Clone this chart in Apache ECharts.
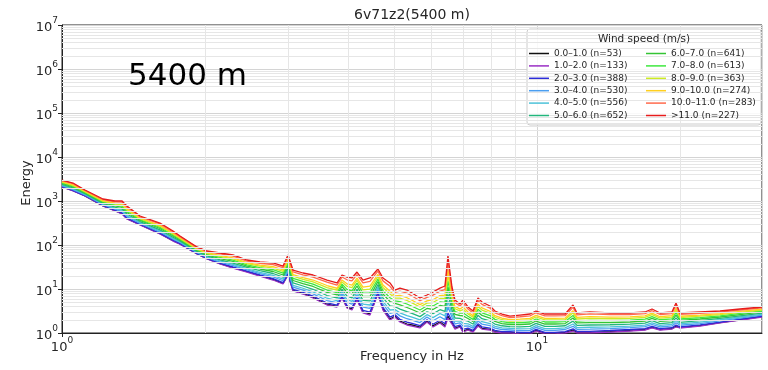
<!DOCTYPE html>
<html>
<head>
<meta charset="utf-8">
<script src="https://cdn.jsdelivr.net/npm/echarts@6/dist/echarts.min.js"></script>
<style>
html, body { margin: 0; padding: 0; background: #ffffff; }
#chart { width: 768px; height: 370px; }
</style>
</head>
<body>
<div id="chart"></div>
<script>
// Frequency grid (Hz) shared by every wind-speed bin
const freq = [
  1.000, 1.055, 1.118, 1.220, 1.293, 1.338, 1.370, 1.460, 1.608, 1.713,
  1.772, 1.924, 2.020, 2.151, 2.291, 2.452, 2.611, 2.782, 2.920, 2.991,
  3.065, 3.216, 3.377, 3.614, 3.793, 3.886, 3.981, 4.078, 4.179, 4.302,
  4.450, 4.626, 4.740, 4.904, 5.024, 5.147, 5.324, 5.456, 5.671, 5.867,
  6.040, 6.248, 6.401, 6.495, 6.623, 6.720, 6.885, 6.986, 7.157, 7.333,
  7.512, 7.660, 7.962, 8.157, 8.438, 8.773, 9.210, 9.667, 9.952, 10.39,
  10.91, 11.46, 11.91, 12.14, 12.93, 14.25, 15.70, 16.88, 17.47, 18.16,
  19.24, 19.62, 20.00, 22.04, 24.29, 26.76, 29.77
];

// Legend entries and line colours, one per wind-speed bin
const binLabels = [
  '0.0–1.0 (n=53)', '1.0–2.0 (n=133)', '2.0–3.0 (n=388)', '3.0–4.0 (n=530)',
  '4.0–5.0 (n=556)', '5.0–6.0 (n=652)', '6.0–7.0 (n=641)', '7.0–8.0 (n=613)',
  '8.0–9.0 (n=363)', '9.0–10.0 (n=274)', '10.0–11.0 (n=283)', '>11.0 (n=227)'
];
const binColors = [
  '#111111', '#9a2fc4', '#2c2cd8', '#4a9ef0', '#4cc2d8', '#22b67c',
  '#34c434', '#3ee83e', '#ccea24', '#ffcf1f', '#ff6a4c', '#e61c1c'
];

// Mean spectral energy per bin
const e00_01 = [
  2100, 1710, 1310, 776, 602, 517, 398, 289, 181, 125,
  106, 63.1, 48.7, 37.6, 30.6, 24.8, 20.2, 16.5, 13.4, 21.5,
  9.32, 7.94, 6.47, 4.50, 4.05, 6.47, 3.88, 3.50, 5.87, 3.00,
  2.71, 8.00, 3.50, 2.08, 2.41, 1.87, 1.60, 1.52, 1.36, 1.85,
  1.45, 1.78, 1.46, 2.42, 1.69, 1.28, 1.42, 1.10, 1.21, 1.09,
  1.50, 1.28, 1.21, 1.08, 1.03, 1.03, 0.98, 0.98, 1.15, 0.98,
  0.98, 1.03, 1.16, 1.03, 1.03, 1.08, 1.14, 1.20, 1.34, 1.20,
  1.26, 1.42, 1.33, 1.47, 1.72, 2.00, 2.35
];
const e01_02 = [
  2080, 1690, 1300, 769, 593, 507, 390, 285, 178, 123,
  105, 62.4, 48.1, 37.0, 30.0, 24.3, 19.7, 16.0, 13.0, 20.8,
  9.02, 7.69, 6.24, 4.33, 3.90, 6.24, 3.70, 3.33, 5.62, 2.85,
  2.56, 7.69, 3.33, 1.97, 2.31, 1.78, 1.52, 1.44, 1.30, 1.78,
  1.37, 1.69, 1.37, 2.19, 1.60, 1.23, 1.37, 1.05, 1.17, 1.05,
  1.44, 1.23, 1.17, 1.05, 1.00, 1.00, 0.95, 0.95, 1.11, 0.95,
  0.95, 1.00, 1.11, 1.00, 1.00, 1.05, 1.11, 1.17, 1.30, 1.17,
  1.23, 1.37, 1.30, 1.44, 1.69, 1.97, 2.31
];
const e02_03 = [
  2140, 1750, 1330, 793, 618, 536, 412, 296, 186, 129,
  109, 64.3, 49.8, 38.7, 31.7, 25.6, 20.9, 17.2, 14.0, 22.6,
  9.84, 8.39, 6.87, 4.81, 4.32, 6.87, 4.21, 3.81, 6.32, 3.27,
  2.99, 8.55, 3.81, 2.30, 2.59, 2.05, 1.76, 1.66, 1.47, 1.99,
  1.58, 1.95, 1.63, 2.84, 1.87, 1.39, 1.51, 1.21, 1.29, 1.15,
  1.62, 1.38, 1.29, 1.15, 1.08, 1.07, 1.03, 1.03, 1.21, 1.03,
  1.03, 1.08, 1.24, 1.09, 1.09, 1.14, 1.20, 1.26, 1.41, 1.26,
  1.32, 1.51, 1.38, 1.53, 1.77, 2.07, 2.41
];
const e03_04 = [
  2220, 1820, 1370, 822, 652, 573, 441, 310, 197, 136,
  114, 66.7, 51.9, 41.0, 33.9, 27.2, 22.5, 18.8, 15.4, 25.1,
  11.0, 9.38, 7.74, 5.47, 4.89, 7.74, 4.95, 4.51, 7.31, 3.89,
  3.63, 9.72, 4.51, 2.79, 2.98, 2.45, 2.11, 1.97, 1.73, 2.30,
  1.90, 2.34, 2.01, 3.94, 2.27, 1.62, 1.70, 1.43, 1.45, 1.29,
  1.87, 1.59, 1.47, 1.29, 1.20, 1.17, 1.13, 1.15, 1.34, 1.15,
  1.15, 1.20, 1.42, 1.21, 1.22, 1.26, 1.32, 1.39, 1.56, 1.37,
  1.45, 1.71, 1.50, 1.64, 1.89, 2.19, 2.54
];
const e04_05 = [
  2300, 1890, 1420, 849, 682, 610, 469, 324, 208, 142,
  118, 68.9, 53.8, 43.3, 36.1, 28.8, 24.0, 20.4, 16.7, 27.6,
  12.1, 10.4, 8.63, 6.17, 5.47, 8.63, 5.73, 5.24, 8.36, 4.55,
  4.33, 11.0, 5.24, 3.33, 3.39, 2.88, 2.49, 2.30, 1.99, 2.61,
  2.24, 2.77, 2.44, 5.26, 2.70, 1.86, 1.89, 1.66, 1.62, 1.42,
  2.14, 1.81, 1.64, 1.42, 1.31, 1.27, 1.24, 1.26, 1.47, 1.26,
  1.26, 1.31, 1.60, 1.33, 1.35, 1.38, 1.43, 1.51, 1.70, 1.49,
  1.57, 1.92, 1.61, 1.76, 2.00, 2.31, 2.66
];
const e05_06 = [
  2390, 1980, 1470, 883, 723, 656, 505, 341, 221, 150,
  124, 71.8, 56.4, 46.0, 38.8, 30.9, 26.1, 22.5, 18.6, 31.0,
  13.7, 11.7, 9.86, 7.11, 6.28, 9.86, 6.85, 6.30, 9.82, 5.50,
  5.36, 12.6, 6.30, 4.12, 3.95, 3.50, 3.05, 2.78, 2.36, 3.04,
  2.74, 3.38, 3.09, 7.52, 3.34, 2.19, 2.16, 1.99, 1.85, 1.60,
  2.52, 2.11, 1.88, 1.60, 1.46, 1.40, 1.38, 1.41, 1.65, 1.41,
  1.41, 1.46, 1.86, 1.49, 1.52, 1.54, 1.59, 1.67, 1.90, 1.64,
  1.73, 2.20, 1.75, 1.91, 2.14, 2.45, 2.82
];
const e06_07 = [
  2500, 2080, 1520, 925, 771, 713, 548, 361, 237, 160,
  130, 75.0, 59.3, 49.3, 42.2, 33.3, 28.5, 25.0, 20.8, 35.2,
  15.6, 13.3, 11.4, 8.34, 7.31, 11.4, 8.34, 7.71, 11.7, 6.76,
  6.76, 14.8, 7.71, 5.20, 4.69, 4.34, 3.80, 3.42, 2.85, 3.61,
  3.42, 4.22, 4.00, 11.1, 4.22, 2.64, 2.50, 2.44, 2.14, 1.83,
  3.00, 2.50, 2.19, 1.83, 1.64, 1.56, 1.56, 1.60, 1.87, 1.60,
  1.60, 1.64, 2.19, 1.69, 1.73, 1.73, 1.78, 1.87, 2.14, 1.83,
  1.92, 2.56, 1.93, 2.08, 2.31, 2.63, 3.01
];
const e07_08 = [
  2590, 2170, 1570, 957, 811, 762, 586, 378, 251, 169,
  136, 77.8, 61.8, 52.2, 45.2, 35.5, 30.6, 27.4, 22.9, 39.0,
  17.4, 14.9, 12.9, 9.48, 8.28, 12.9, 9.79, 9.10, 13.6, 8.04,
  8.20, 16.9, 9.10, 6.31, 5.40, 5.18, 4.56, 4.06, 3.33, 4.15,
  4.11, 5.07, 4.95, 15.3, 5.12, 3.06, 2.82, 2.88, 2.41, 2.04,
  3.48, 2.88, 2.49, 2.04, 1.82, 1.71, 1.72, 1.78, 2.08, 1.78,
  1.78, 1.82, 2.51, 1.87, 1.93, 1.91, 1.95, 2.06, 2.36, 2.00,
  2.10, 2.91, 2.08, 2.24, 2.46, 2.79, 3.16
];
const e08_09 = [
  2690, 2260, 1620, 993, 855, 817, 628, 396, 266, 178,
  141, 80.7, 64.4, 55.3, 48.3, 37.8, 33.0, 29.9, 25.1, 43.4,
  19.5, 16.6, 14.5, 10.8, 9.40, 14.5, 11.5, 10.8, 15.7, 9.55,
  9.95, 19.2, 10.8, 7.66, 6.21, 6.18, 5.48, 4.83, 3.90, 4.79,
  4.93, 6.08, 6.14, 21.2, 6.21, 3.56, 3.18, 3.40, 2.72, 2.28,
  4.02, 3.32, 2.82, 2.28, 2.00, 1.86, 1.90, 1.98, 2.31, 1.98,
  1.98, 2.00, 2.88, 2.08, 2.16, 2.11, 2.15, 2.26, 2.61, 2.18,
  2.30, 3.30, 2.25, 2.41, 2.62, 2.95, 3.33
];
const e09_10 = [
  2770, 2340, 1660, 1020, 891, 861, 662, 411, 279, 185,
  146, 83.2, 66.7, 57.9, 51.1, 39.7, 35.0, 32.1, 27.1, 47.1,
  21.2, 18.2, 16.0, 12.0, 10.4, 16.0, 13.1, 12.3, 17.6, 11.0,
  11.6, 21.4, 12.3, 8.93, 6.95, 7.13, 6.34, 5.55, 4.42, 5.36,
  5.71, 7.05, 7.29, 27.5, 7.24, 4.03, 3.50, 3.89, 2.99, 2.48,
  4.52, 3.72, 3.12, 2.48, 2.17, 2.00, 2.06, 2.15, 2.51, 2.15,
  2.15, 2.17, 3.21, 2.26, 2.36, 2.29, 2.32, 2.44, 2.82, 2.34,
  2.47, 3.65, 2.40, 2.55, 2.75, 3.09, 3.48
];
const e10_11 = [
  2900, 2470, 1730, 1070, 955, 940, 723, 438, 301, 199,
  155, 87.3, 70.5, 62.5, 55.7, 43.1, 38.5, 36.0, 30.6, 54.0,
  24.5, 20.9, 18.7, 14.3, 12.2, 18.7, 16.2, 15.3, 21.3, 13.7,
  14.9, 25.4, 15.3, 11.5, 8.36, 8.97, 8.04, 6.95, 5.42, 6.44,
  7.24, 8.93, 9.64, 42.0, 9.31, 4.91, 4.09, 4.84, 3.50, 2.86,
  5.47, 4.47, 3.67, 2.86, 2.47, 2.24, 2.34, 2.46, 2.88, 2.46,
  2.46, 2.47, 3.83, 2.59, 2.72, 2.61, 2.62, 2.75, 3.21, 2.63,
  2.77, 4.30, 2.65, 2.81, 2.99, 3.33, 3.72
];
const e11_up = [
  3000, 2560, 1780, 1110, 1000, 1000, 769, 456, 316, 208,
  160, 90.2, 73.1, 65.8, 59.3, 45.6, 41.1, 39.0, 33.3, 59.3,
  27.0, 23.1, 20.8, 16.0, 13.7, 20.8, 18.7, 17.8, 24.3, 16.0,
  17.8, 28.5, 17.8, 13.7, 9.48, 10.5, 9.48, 8.11, 6.24, 7.31,
  8.55, 10.5, 11.7, 56.2, 11.1, 5.62, 4.56, 5.62, 3.90, 3.16,
  6.24, 5.07, 4.11, 3.16, 2.70, 2.43, 2.56, 2.70, 3.16, 2.70,
  2.70, 2.70, 4.33, 2.85, 3.00, 2.85, 2.85, 3.00, 3.51, 2.85,
  3.00, 4.81, 2.85, 3.00, 3.16, 3.51, 3.90
];
const energyByBin = [e00_01, e01_02, e02_03, e03_04, e04_05, e05_06,
                     e06_07, e07_08, e08_09, e09_10, e10_11, e11_up];

// Minor grid multipliers inside each decade
const minorSteps = [2, 3, 4, 5, 6, 7, 8, 9];
const yDecades = [1, 10, 100, 1e3, 1e4, 1e5, 1e6];
const xDecades = [1, 10];

const FONT = 'DejaVu Sans';
const INK = '#262626';

function powerLabel(v) {
  const e = Math.round(Math.log10(v));
  if (Math.abs(v - Math.pow(10, e)) > 1e-6 * v) return '';
  return '{b|10}{s|' + e + '}';
}
const labelRich = {
  b: { fontFamily: FONT, fontSize: 13, color: INK, lineHeight: 18, verticalAlign: 'bottom' },
  s: { fontFamily: FONT, fontSize: 9, color: INK, lineHeight: 11, verticalAlign: 'top' }
};

const minorLines = [];
yDecades.forEach(d => minorSteps.forEach(m => minorLines.push({ yAxis: d * m })));
xDecades.forEach(d => minorSteps.forEach(m => {
  const v = d * m;
  if (v < 29.77) minorLines.push({ xAxis: v });
}));

const series = [{
  type: 'line',
  data: [],
  silent: true,
  z: 1,
  markLine: {
    silent: true,
    symbol: ['none', 'none'],
    label: { show: false },
    lineStyle: { color: '#e6e6e6', width: 1, type: 'solid' },
    emphasis: { disabled: true },
    data: minorLines
  }
}];
binLabels.forEach((name, i) => {
  series.push({
    name: name,
    type: 'line',
    data: freq.map((f, k) => [f, energyByBin[i][k]]),
    showSymbol: false,
    symbol: 'none',
    clip: true,
    z: 2,
    lineStyle: { width: 1.3, color: binColors[i] },
    itemStyle: { color: binColors[i] }
  });
});

const chart = echarts.init(document.getElementById('chart'), null, { renderer: 'canvas' });
chart.setOption({
  animation: false,
  backgroundColor: '#ffffff',
  grid: {
    left: 62, right: 6, top: 25, bottom: 37,
    containLabel: false, outerBoundsMode: 'none',
    show: true, borderColor: '#222', borderWidth: 1, backgroundColor: 'transparent'
  },
  xAxis: {
    type: 'log', logBase: 10, min: 1, max: 29.77,
    axisLine: { show: true, lineStyle: { color: '#222', width: 1 } },
    axisTick: { show: true, inside: false, length: 4, lineStyle: { color: '#222' } },
    axisLabel: { formatter: powerLabel, rich: labelRich, margin: 3, showMaxLabel: false },
    splitLine: { show: true, lineStyle: { color: '#d4d4d4', width: 1 } }
  },
  yAxis: {
    type: 'log', logBase: 10, min: 1, max: 1e7, splitNumber: 7,
    axisLine: { show: true, lineStyle: { color: '#222', width: 1 } },
    axisTick: { show: true, inside: false, length: 4, lineStyle: { color: '#222' } },
    axisLabel: { formatter: powerLabel, rich: labelRich, margin: 4 },
    splitLine: { show: true, lineStyle: { color: '#d4d4d4', width: 1 } }
  },
  legend: [
    {
      data: binLabels.slice(0, 6), left: 529, top: 49, orient: 'vertical',
      padding: 0, itemGap: 3.4, itemWidth: 20, itemHeight: 1.5, icon: 'rect',
      selectedMode: false, z: 6,
      textStyle: { fontFamily: FONT, fontSize: 9, color: INK }
    },
    {
      data: binLabels.slice(6), left: 646, top: 49, orient: 'vertical',
      padding: 0, itemGap: 3.4, itemWidth: 20, itemHeight: 1.5, icon: 'rect',
      selectedMode: false, z: 6,
      textStyle: { fontFamily: FONT, fontSize: 9, color: INK }
    }
  ],
  graphic: [
    {
      type: 'rect', z: 5, silent: true,
      shape: { x: 527, y: 29, width: 234, height: 96, r: 3 },
      style: { fill: 'rgba(255,255,255,0.85)', stroke: '#cccccc', lineWidth: 1 }
    },
    {
      type: 'text', z: 7, silent: true, x: 644, y: 39,
      style: { text: 'Wind speed (m/s)', fontFamily: FONT, fontSize: 10.5, fill: INK, textAlign: 'center', textVerticalAlign: 'middle' }
    },
    {
      type: 'text', z: 7, silent: true, x: 412, y: 15,
      style: { text: '6v71z2(5400 m)', fontFamily: FONT, fontSize: 14, fill: INK, textAlign: 'center', textVerticalAlign: 'middle' }
    },
    {
      type: 'text', z: 7, silent: true, x: 412, y: 357,
      style: { text: 'Frequency in Hz', fontFamily: FONT, fontSize: 13, fill: INK, textAlign: 'center', textVerticalAlign: 'middle' }
    },
    {
      type: 'text', z: 7, silent: true, x: 27, y: 183, rotation: Math.PI / 2,
      style: { text: 'Energy', fontFamily: FONT, fontSize: 13, fill: INK, textAlign: 'center', textVerticalAlign: 'middle' }
    },
    {
      type: 'text', z: 7, silent: true, x: 128, y: 77,
      style: { text: '5400 m', fontFamily: FONT, fontSize: 31, fill: '#000000', textAlign: 'left', textVerticalAlign: 'middle' }
    }
  ],
  series: series
});
</script>
</body>
</html>
